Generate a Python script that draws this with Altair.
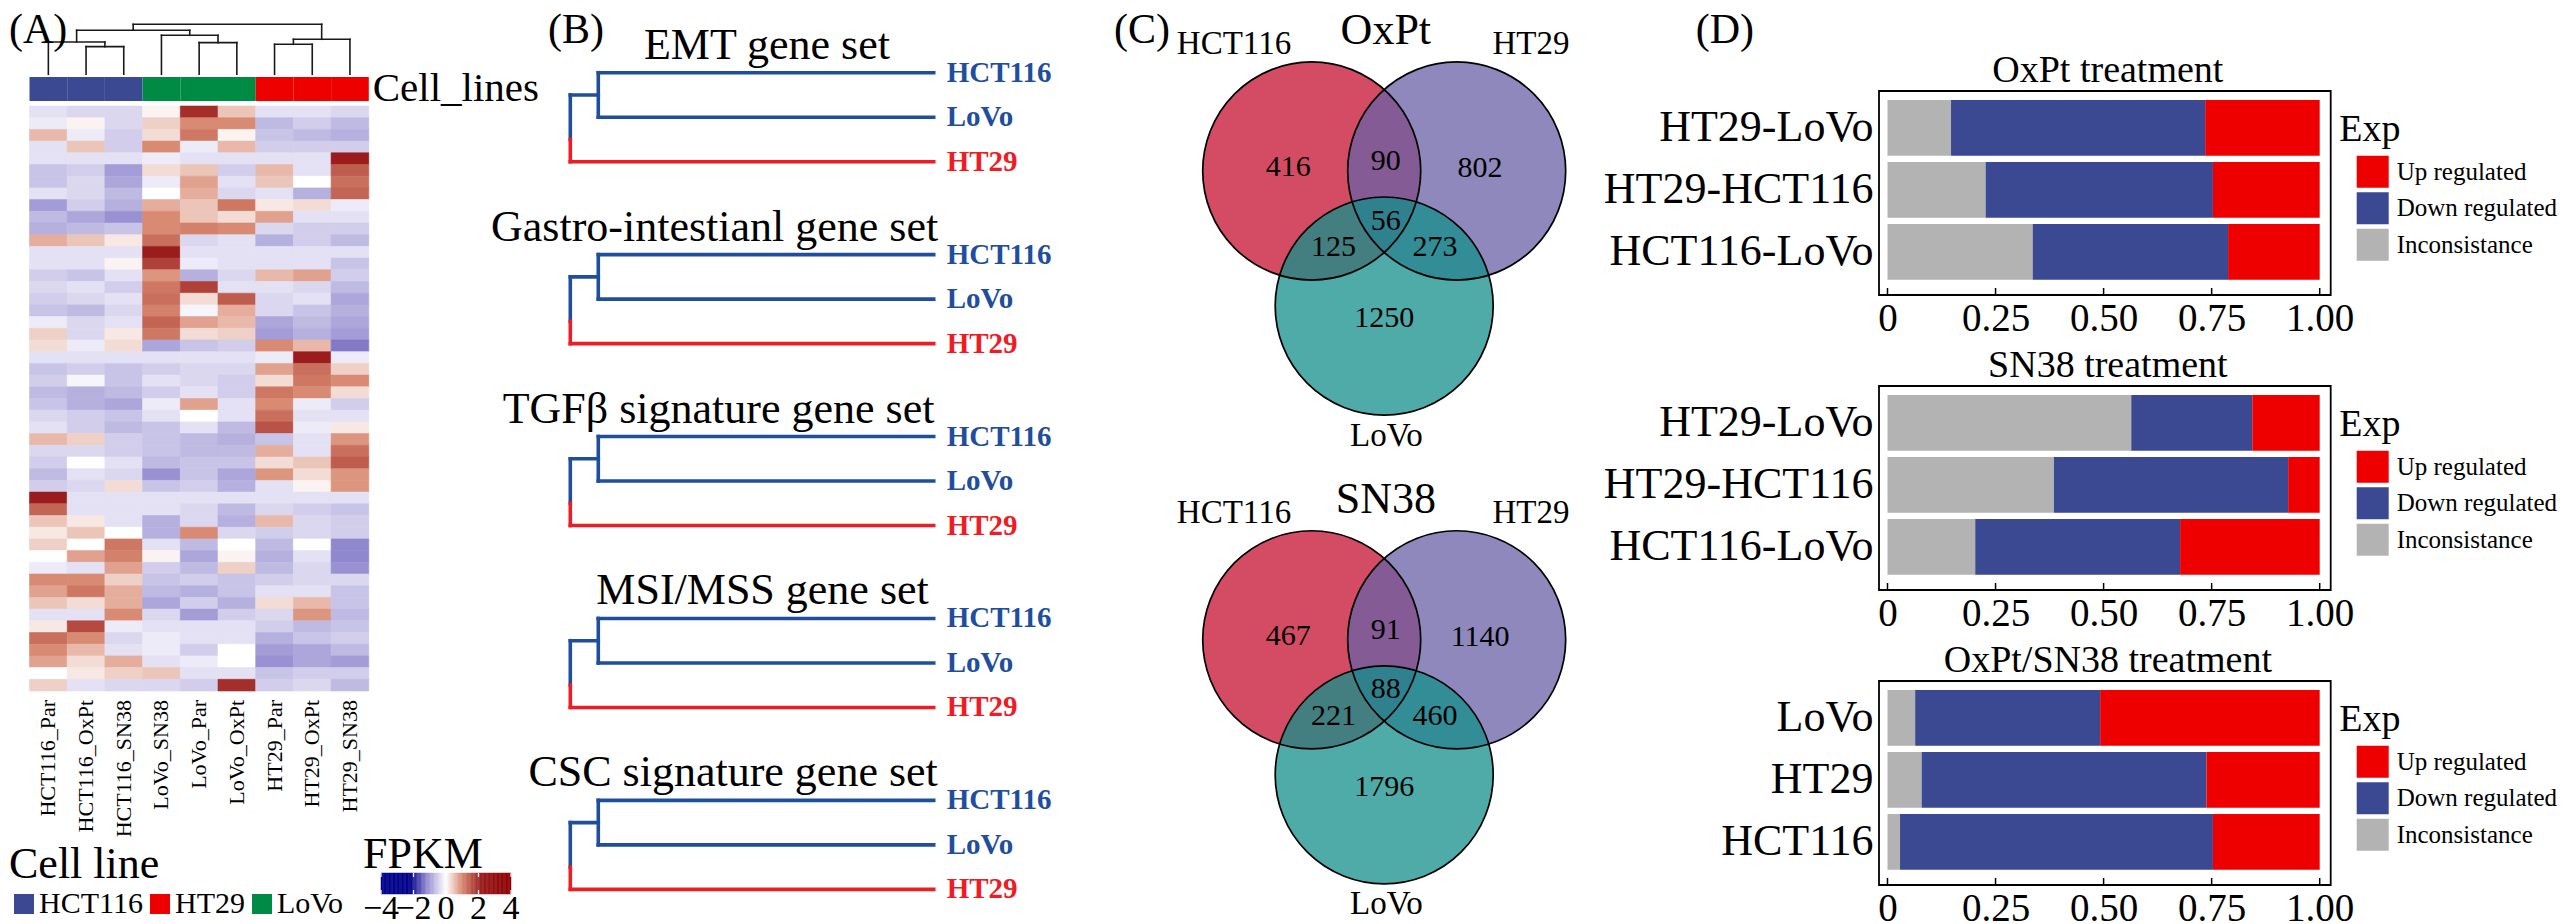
import altair as alt
import pandas as pd

FONT = "Liberation Serif"

# =============================== DATA =====================================
# ---- (A) heatmap --------------------------------------------------------
samples = ["HCT116_Par", "HCT116_OxPt", "HCT116_SN38", "LoVo_SN38", "LoVo_Par",
           "LoVo_OxPt", "HT29_Par", "HT29_OxPt", "HT29_SN38"]
sample_cell_line = ["HCT116", "HCT116", "HCT116", "LoVo", "LoVo", "LoVo",
                    "HT29", "HT29", "HT29"]
cell_lines = ["HCT116", "HT29", "LoVo"]

expr_HCT116_Par = [-0.3, -0.2, 0.6, -0.3, -0.3, -0.6, -0.6, -0.3, -1.0, -0.7,
                   -0.8, 0.7, -0.3, -0.3, -0.5, -0.4, -0.5, -0.6, -0.2, 0.4,
                   0.3, -0.3, -0.6, -0.5, -0.7, -0.6, -0.4, -0.3, 0.6, -0.4,
                   -0.5, -0.7, -0.5, 2.2, 1.4, 0.5, 0.2, 0.4, 0.0, -0.2,
                   1.0, 0.8, 0.5, -0.3, 0.2, 1.3, 1.0, 0.8, 0.0, 0.4]
expr_HCT116_OxPt = [-0.4, 0.1, -0.2, 0.5, -0.3, -0.5, -0.4, -0.4, -0.5, -0.9,
                    -0.7, 0.5, -0.3, -0.3, -0.6, -0.3, -0.4, -0.7, -0.4, -0.4,
                    -0.2, -0.3, -0.5, -0.1, -0.8, -0.8, -0.5, -0.5, 0.4, -0.4,
                    0.0, -0.3, -0.4, -0.3, -0.3, 0.2, 0.5, 0.0, 0.8, -0.3,
                    1.0, 1.2, 0.3, -0.3, 1.7, 1.0, 0.6, 0.3, 0.2, -0.3]
expr_HCT116_SN38 = [-0.4, -0.4, -0.5, -0.5, -0.3, -1.0, -0.9, -0.7, -0.8, -1.1,
                    -0.6, 0.2, -0.3, 0.1, -0.3, -0.5, -0.3, -0.4, -0.3, 0.2,
                    0.3, -0.3, -0.6, -0.6, -0.7, -0.9, -0.6, -0.7, -0.5, -0.5,
                    -0.3, -0.4, 0.3, -0.3, -0.3, -0.3, 0.0, 1.2, 1.1, 0.8,
                    0.4, 0.7, 0.7, 1.0, -0.2, -0.4, -0.3, 0.7, 0.4, -0.4]
expr_LoVo_SN38 = [0.1, 0.4, 0.3, 1.0, -0.2, 0.3, -0.2, 0.0, 0.7, 1.0,
                  1.0, 1.3, 2.2, 1.8, 0.9, 1.2, 1.3, 1.1, 1.4, 1.2,
                  -0.9, -0.3, -0.5, -0.3, -0.5, -0.2, -0.3, -0.6, -0.6, -0.6,
                  -0.7, -1.1, -0.6, -0.3, -0.3, -0.8, -0.8, -0.3, 0.1, -0.5,
                  -0.6, -0.7, -0.9, -0.4, -0.3, -0.2, -0.2, -0.3, 0.5, -0.4]
expr_LoVo_Par = [2.0, 1.0, 1.2, -0.2, -0.3, 0.5, 0.8, 0.7, 0.5, 0.5,
                 1.1, -0.4, -0.3, -0.2, -0.8, 1.8, 0.3, -0.1, 0.8, 0.3,
                 -0.6, -0.3, -0.4, -0.4, -0.3, 0.8, 0.0, -0.3, -0.7, -0.7,
                 -0.6, -0.6, -0.5, -0.3, -0.4, -0.4, 1.0, -0.7, -0.9, -0.7,
                 -0.5, -0.8, -0.5, -1.0, -0.3, -0.3, -0.5, -0.2, -0.3, -0.5]
expr_LoVo_OxPt = [0.5, 1.0, 0.1, 0.6, -0.3, -0.5, -0.3, -0.4, 1.2, 0.3,
                  1.0, -0.3, -0.3, -0.3, -0.4, -0.3, 1.5, 0.7, 0.6, 0.4,
                  -0.5, -0.3, -0.4, -0.5, -0.5, -0.3, -0.3, -0.7, -0.8, -0.7,
                  -0.6, -0.9, -0.8, -0.3, -0.7, -0.8, -0.4, 0.0, 0.1, 0.4,
                  -0.6, -0.6, -0.8, -0.5, -0.3, -0.3, 0.0, 0.0, -0.3, 2.0]
expr_HT29_Par = [-0.3, -0.7, -0.6, -0.5, -0.3, 0.6, 0.5, -0.3, 0.2, 0.8,
                 -0.4, -0.8, -0.3, -0.3, 0.6, -0.3, -0.4, -0.4, -0.9, -1.0,
                 1.0, -0.2, 0.8, 0.3, 1.2, 1.0, 1.3, 1.6, -0.6, 0.7,
                 0.3, 0.9, -0.3, -0.3, -0.4, 0.6, -0.5, -0.7, -0.8, -0.7,
                 -0.5, -0.3, 0.3, -0.4, -0.5, -0.8, -1.0, -1.1, -0.6, -0.5]
expr_HT29_OxPt = [-0.3, -0.5, -0.7, -0.5, -0.3, -0.3, 0.0, -0.8, 0.3, -0.3,
                  -0.5, -0.5, -0.3, -0.3, 0.8, -0.4, -0.3, -0.6, -0.7, -0.8,
                  0.6, 2.2, 1.3, 1.2, 1.0, -0.2, -0.3, -0.2, -0.3, -0.3,
                  0.5, 0.3, 0.1, -0.3, -0.5, -0.4, -0.4, 0.0, -0.3, -0.4,
                  -0.4, -0.3, 0.6, 0.9, -0.7, -0.6, -0.9, -0.9, -0.5, -0.4]
expr_HT29_SN38 = [-0.4, -0.7, -0.8, -0.5, 2.2, 1.5, 1.3, 1.4, -0.2, -0.3,
                  -0.5, -0.7, -0.3, -0.6, -0.5, -0.7, -0.9, -0.8, -0.9, -1.0,
                  -1.3, -0.2, 0.4, 1.0, 0.3, -0.5, -0.3, 0.2, 0.9, 1.3,
                  1.5, 0.9, 0.9, -0.3, -0.6, -0.5, -0.5, -1.2, -1.2, -1.1,
                  -0.4, -0.6, -0.6, -0.7, -0.6, -0.5, -0.7, -1.0, -0.5, -0.7]
expression = [expr_HCT116_Par, expr_HCT116_OxPt, expr_HCT116_SN38,
              expr_LoVo_SN38, expr_LoVo_Par, expr_LoVo_OxPt,
              expr_HT29_Par, expr_HT29_OxPt, expr_HT29_SN38]
fpkm_ticks = [-4, -2, 0, 2, 4]

# sample clustering: (merge height, left, right)
sample_tree = (1.00,
               (0.88,
                (0.647, "HCT116_Par", (0.553, "HCT116_OxPt", "HCT116_SN38")),
                (0.78, "LoVo_SN38", (0.633, "LoVo_Par", "LoVo_OxPt"))),
               (0.70, (0.60, "HT29_Par", "HT29_OxPt"), "HT29_SN38"))

# ---- (B) gene-set dendrograms -------------------------------------------
gene_sets = ["EMT gene set", "Gastro-intestianl gene set", "TGFβ signature gene set",
             "MSI/MSS gene set", "CSC signature gene set"]
gs_leaves = ["HCT116", "LoVo", "HT29"]
gs_leaf_cluster = ["c1", "c1", "c2"]
gs_inner_height = [0.923, 0.923, 0.923, 0.923, 0.923]
gs_root_height = [1.0, 1.0, 1.0, 1.0, 1.0]

# ---- (C) Venn diagrams ---------------------------------------------------
venn_sets = ["HCT116", "HT29", "LoVo"]
venn_regions = ["HCT116", "HCT116&HT29", "HT29", "all", "HCT116&LoVo", "HT29&LoVo", "LoVo"]
venn_titles = ["OxPt", "SN38"]
oxpt_counts = [416, 90, 802, 56, 125, 273, 1250]
sn38_counts = [467, 91, 1140, 88, 221, 460, 1796]

# ---- (D) stacked proportions ---------------------------------------------
status_levels = ["Up regulated", "Down regulated", "Inconsistance"]
pairs = ["HT29-LoVo", "HT29-HCT116", "HCT116-LoVo"]
oxpt_incons = [0.147, 0.227, 0.336]
oxpt_down = [0.588, 0.526, 0.452]
oxpt_up = [0.265, 0.247, 0.212]
sn38_incons = [0.564, 0.385, 0.203]
sn38_down = [0.280, 0.542, 0.474]
sn38_up = [0.156, 0.073, 0.323]
both_groups = ["LoVo", "HT29", "HCT116"]
both_incons = [0.064, 0.079, 0.029]
both_down = [0.428, 0.659, 0.724]
both_up = [0.508, 0.262, 0.247]
prop_ticks = [0, 0.25, 0.5, 0.75, 1.0]

# ============================== STYLE / LAYOUT ============================
H = 908
cell_line_colors = ["#3B4992", "#EE0000", "#008B45"]
heat_stops = [-4, -2.2, -1.2, 0, 1, 2.2, 4]
heat_colors = ["#00008B", "#00008B", "#9088CE", "#FFFFFF", "#D88A72", "#9A1C1C", "#8B0000"]
cluster_colors = ["#1F4E9D", "#EE1C25"]
venn_colors = ["#C61030", "#6A60A6", "#138F8B"]
status_colors = ["#EE0000", "#3B4992", "#B3B3B3"]


def txt(text, x, y, size, align="left", baseline="alphabetic", **kw):
    return alt.Chart(pd.DataFrame({"t": [text]})).mark_text(
        align=align, baseline=baseline, fontSize=size, font=FONT, color="black", **kw
    ).encode(text="t:N", x=alt.value(x), y=alt.value(y))


# ============================== PANEL A ===================================
W_A = 530
COL_PX, ROW_PX = 37.7, 11.7
HM_X0, HM_Y0 = 20.5, 97.0
ANN_TOP_PX, ANN_BOT_PX = 68.0, 92.0
DEND_BASE_PX, DEND_TOP_PX = 65.3, 15.3
LABEL_TOP_PX = 691.0
CB_X0_PX, CB_X1_PX, CB_Y0_PX, CB_Y1_PX = 372.0, 502.0, 864.0, 885.0
CB_LABEL_Y_PX = 900.0


def ux(px):
    return (px - HM_X0) / COL_PX


def uy(px):
    return (px - HM_Y0) / ROW_PX


xA = alt.Scale(domain=[ux(0), ux(W_A)], nice=False, zero=False)
yA = alt.Scale(domain=[uy(0), uy(H)], reverse=True, nice=False, zero=False)
heat_scale = dict(domain=heat_stops, range=heat_colors, interpolate="rgb", zero=False, nice=False)

heat_rows = []
for i, (s, vals) in enumerate(zip(samples, expression)):
    for r, v in enumerate(vals):
        heat_rows.append({"sample": s, "c0": i, "c1": i + 1, "r0": r, "r1": r + 1,
                          "FPKM": v, "edge": v})
heat_df = pd.DataFrame(heat_rows)

heat = alt.Chart(heat_df).mark_rect(strokeWidth=0.6).encode(
    x=alt.X("c0:Q", scale=xA, axis=None), x2="c1:Q",
    y=alt.Y("r0:Q", scale=yA, axis=None), y2="r1:Q",
    color=alt.Color("FPKM:Q", scale=alt.Scale(**heat_scale), legend=None),
    stroke=alt.Stroke("edge:Q", scale=alt.Scale(**heat_scale), legend=None),
)

# colour bar (FPKM key) drawn through the same colour scale
lo, hi = fpkm_ticks[0], fpkm_ticks[-1]
cb_u0, cb_u1 = ux(CB_X0_PX), ux(CB_X1_PX)


def cb_x(v):
    return cb_u0 + (v - lo) / (hi - lo) * (cb_u1 - cb_u0)


cb_rows = []
n_cb = 100
for k in range(n_cb):
    v0 = lo + (hi - lo) * k / n_cb
    v1 = lo + (hi - lo) * (k + 1) / n_cb
    cb_rows.append({"FPKM": (v0 + v1) / 2, "edge": (v0 + v1) / 2, "x0": cb_x(v0), "x1": cb_x(v1)})
cb_df = pd.DataFrame(cb_rows)
cb_df["y0"] = uy(CB_Y0_PX)
cb_df["y1"] = uy(CB_Y1_PX)
colorbar = alt.Chart(cb_df).mark_rect(strokeWidth=0.5).encode(
    x=alt.X("x0:Q", scale=xA, axis=None), x2="x1:Q",
    y=alt.Y("y0:Q", scale=yA, axis=None), y2="y1:Q",
    color=alt.Color("FPKM:Q", scale=alt.Scale(**heat_scale), legend=None),
    stroke=alt.Stroke("edge:Q", scale=alt.Scale(**heat_scale), legend=None))

tick_rows = []
for t in fpkm_ticks:
    tick_rows.append({"x": cb_x(t), "y": uy(CB_Y0_PX), "y2": uy(CB_Y0_PX + 4)})
    tick_rows.append({"x": cb_x(t), "y": uy(CB_Y1_PX - 4), "y2": uy(CB_Y1_PX)})
cb_ticks = alt.Chart(pd.DataFrame(tick_rows)).mark_rule(color="white", strokeWidth=1.2).encode(
    x=alt.X("x:Q", scale=xA, axis=None), y=alt.Y("y:Q", scale=yA, axis=None), y2="y2:Q")
cb_lab_df = pd.DataFrame({"label": [str(t).replace("-", "\u2212") for t in fpkm_ticks],
                          "x": [cb_x(t) for t in fpkm_ticks]})
cb_lab_df["y"] = uy(CB_LABEL_Y_PX)
cb_labels = alt.Chart(cb_lab_df).mark_text(fontSize=34, font=FONT, color="black",
                                           baseline="middle", align="center").encode(
    x=alt.X("x:Q", scale=xA, axis=None), y=alt.Y("y:Q", scale=yA, axis=None), text="label:N")

ann_df = pd.DataFrame({"sample": samples, "cell_line": sample_cell_line,
                       "c0": list(range(len(samples))),
                       "c1": [i + 1 for i in range(len(samples))]})
ann_df["y0"] = uy(ANN_TOP_PX)
ann_df["y1"] = uy(ANN_BOT_PX)
ann = alt.Chart(ann_df).mark_rect().encode(
    x=alt.X("c0:Q", scale=xA, axis=None), x2="c1:Q",
    y=alt.Y("y0:Q", scale=yA, axis=None), y2="y1:Q",
    color=alt.Color("cell_line:N",
                    scale=alt.Scale(domain=cell_lines, range=cell_line_colors),
                    legend=alt.Legend(orient="none", legendX=0, legendY=834,
                                      direction="horizontal", columns=3,
                                      title="Cell line", titleFontSize=44,
                                      titleFont=FONT, titleFontWeight="normal",
                                      titleColor="black", titlePadding=2,
                                      labelFontSize=30, labelFont=FONT,
                                      labelColor="black", labelOffset=0,
                                      symbolType="square", symbolSize=400,
                                      symbolStrokeWidth=0, columnPadding=2,
                                      padding=0)),
)

segs = []


def walk(node):
    if isinstance(node, str):
        return samples.index(node) + 0.5, 0.0
    h, left, right = node
    xl, hl = walk(left)
    xr, hr = walk(right)
    segs.extend([(xl, hl, xl, h), (xr, hr, xr, h), (xl, h, xr, h)])
    return (xl + xr) / 2, h


walk(sample_tree)
base_u, top_u = uy(DEND_BASE_PX), uy(DEND_TOP_PX)
dend_df = pd.DataFrame([{"x": a, "x2": c, "y": base_u - b * (base_u - top_u),
                         "y2": base_u - d * (base_u - top_u)} for a, b, c, d in segs])
dend = alt.Chart(dend_df).mark_rule(color="#1a1a1a", strokeWidth=1.6, strokeCap="square").encode(
    x=alt.X("x:Q", scale=xA, axis=None), x2="x2:Q",
    y=alt.Y("y:Q", scale=yA, axis=None), y2="y2:Q")

lab_df = pd.DataFrame({"sample": samples, "xc": [i + 0.5 for i in range(len(samples))]})
lab_df["yl"] = uy(LABEL_TOP_PX)
col_labels = alt.Chart(lab_df).mark_text(angle=270, align="right", baseline="middle",
                                         fontSize=22, font=FONT, color="black").encode(
    x=alt.X("xc:Q", scale=xA, axis=None), y=alt.Y("yl:Q", scale=yA, axis=None), text="sample:N")

panelA = alt.layer(
    heat, ann, dend, col_labels, colorbar, cb_ticks, cb_labels,
    txt("Cell_lines", 363.7, 80, 41, baseline="middle"),
    txt("(A)", 0, 1, 42, baseline="top"),
    txt("FPKM", 354, 858.7, 44),
).resolve_scale(color="independent", stroke="independent").properties(width=W_A, height=H)

# ============================== PANEL B ===================================
W_B = 560
B_UNIT_X, B_ZERO_PX = 363.4, 394.7
B_UNIT_Y, B_FIRST_PX, B_BLOCK = 44.5, 63.7, 4.088
B_TITLE_GAP = 14.0 / 44.5
title_x_units = [0.459, 0.603, 0.592, 0.471, 0.552]

xB = alt.Scale(domain=[(B_ZERO_PX - W_B) / B_UNIT_X, B_ZERO_PX / B_UNIT_X],
               reverse=True, nice=False, zero=False)
yB = alt.Scale(domain=[-B_FIRST_PX / B_UNIT_Y, (H - B_FIRST_PX) / B_UNIT_Y],
               reverse=True, nice=False, zero=False)

b_segs, b_leaves, b_titles = [], [], []
for g, name in enumerate(gene_sets):
    b = g * B_BLOCK
    hi_, hr_ = gs_inner_height[g], gs_root_height[g]
    c0, c1, c2 = gs_leaf_cluster
    b_segs += [
        dict(x=0, x2=hi_, y=b + 0, y2=b + 0, cl=c0),
        dict(x=0, x2=hi_, y=b + 1, y2=b + 1, cl=c1),
        dict(x=0, x2=hr_, y=b + 2, y2=b + 2, cl=c2),
        dict(x=hi_, x2=hi_, y=b + 0, y2=b + 1, cl=c0),
        dict(x=hi_, x2=hr_, y=b + 0.5, y2=b + 0.5, cl=c0),
        dict(x=hr_, x2=hr_, y=b + 0.5, y2=b + 1.5, cl=c1),
        dict(x=hr_, x2=hr_, y=b + 1.5, y2=b + 2, cl=c2),
    ]
    for k, leaf in enumerate(gs_leaves):
        b_leaves.append(dict(x=0, y=b + k, label=leaf, cl=gs_leaf_cluster[k]))
    b_titles.append(dict(x=title_x_units[g], y=b - B_TITLE_GAP, label=name))

cl_scale = alt.Scale(domain=["c1", "c2"], range=cluster_colors)
b_lines = alt.Chart(pd.DataFrame(b_segs)).mark_rule(strokeWidth=3.6, strokeCap="square").encode(
    x=alt.X("x:Q", scale=xB, axis=None), x2="x2:Q",
    y=alt.Y("y:Q", scale=yB, axis=None), y2="y2:Q",
    color=alt.Color("cl:N", scale=cl_scale, legend=None))
b_leaf_txt = alt.Chart(pd.DataFrame(b_leaves)).mark_text(
    align="left", baseline="middle", dx=13, fontSize=29, fontWeight="bold", font=FONT).encode(
    x=alt.X("x:Q", scale=xB, axis=None), y=alt.Y("y:Q", scale=yB, axis=None),
    text="label:N", color=alt.Color("cl:N", scale=cl_scale, legend=None))
b_title_txt = alt.Chart(pd.DataFrame(b_titles)).mark_text(
    align="center", baseline="alphabetic", fontSize=44, font=FONT, color="black").encode(
    x=alt.X("x:Q", scale=xB, axis=None), y=alt.Y("y:Q", scale=yB, axis=None), text="label:N")

panelB = alt.layer(b_lines, b_leaf_txt, b_title_txt, txt("(B)", 9, 1, 42, baseline="top")
                   ).properties(width=W_B, height=H)

# ============================== PANEL C ===================================
W_C = 779.3
R_PX = 109.0
C_CX_PX, C_CY_PX = 285.2, 162.0
VENN_DY = 4.301
set_center = {"HCT116": (-0.665, 0.0), "HT29": (0.665, 0.0), "LoVo": (0.0, 1.239)}
set_label_at = {"HCT116": (-1.378, -1.07), "HT29": (1.347, -1.07), "LoVo": (0.02, 2.52)}
region_at = {"HCT116": (-0.88, -0.035), "HCT116&HT29": (0.015, -0.09), "HT29": (0.88, -0.03),
             "all": (0.015, 0.455), "HCT116&LoVo": (-0.465, 0.70),
             "HT29&LoVo": (0.465, 0.70), "LoVo": (0.0, 1.35)}
TITLE_DY = -1.165

xC = alt.Scale(domain=[-C_CX_PX / R_PX, (W_C - C_CX_PX) / R_PX], nice=False, zero=False)
yC = alt.Scale(domain=[-C_CY_PX / R_PX, (H - C_CY_PX) / R_PX], reverse=True, nice=False, zero=False)

circ, counts, setlab, titles = [], [], [], []
for v, (title, cnts) in enumerate(zip(venn_titles, [oxpt_counts, sn38_counts])):
    oy = v * VENN_DY
    for s in venn_sets:
        cx, cy = set_center[s]
        circ.append(dict(set=s, x=cx, y=cy + oy))
        lx, ly = set_label_at[s]
        setlab.append(dict(label=s, x=lx, y=ly + oy))
    for reg, n in zip(venn_regions, cnts):
        rx, ry = region_at[reg]
        counts.append(dict(label=str(n), x=rx, y=ry + oy))
    titles.append(dict(label=title, x=0.015, y=TITLE_DY + oy))

DIAM = (2 * R_PX) ** 2
c_fill = alt.Chart(pd.DataFrame(circ)).mark_circle(size=DIAM, opacity=1, fillOpacity=0.75, strokeWidth=0).encode(
    x=alt.X("x:Q", scale=xC, axis=None), y=alt.Y("y:Q", scale=yC, axis=None),
    color=alt.Color("set:N", scale=alt.Scale(domain=venn_sets, range=venn_colors), legend=None))
c_line = alt.Chart(pd.DataFrame(circ)).mark_point(shape="circle", filled=False, size=DIAM, opacity=1,
                                                  strokeWidth=1.7, color="black").encode(
    x=alt.X("x:Q", scale=xC, axis=None), y=alt.Y("y:Q", scale=yC, axis=None))
c_counts = alt.Chart(pd.DataFrame(counts)).mark_text(fontSize=30, font=FONT, color="black",
                                                     baseline="middle").encode(
    x=alt.X("x:Q", scale=xC, axis=None), y=alt.Y("y:Q", scale=yC, axis=None), text="label:N")
c_setlab = alt.Chart(pd.DataFrame(setlab)).mark_text(fontSize=33, font=FONT, color="black",
                                                     baseline="alphabetic").encode(
    x=alt.X("x:Q", scale=xC, axis=None), y=alt.Y("y:Q", scale=yC, axis=None), text="label:N")
c_titles = alt.Chart(pd.DataFrame(titles)).mark_text(fontSize=44, font=FONT, color="black",
                                                     baseline="alphabetic").encode(
    x=alt.X("x:Q", scale=xC, axis=None), y=alt.Y("y:Q", scale=yC, axis=None), text="label:N")

panelC = alt.layer(c_fill, c_line, c_counts, c_setlab, c_titles,
                   txt("(C)", 15, 1, 42, baseline="top")).properties(width=W_C, height=H)

# ============================== PANEL D ===================================
D_W, D_H = 451.7, 204
D_GAP, D_TOP = 91, 81.3
D_ZERO_PX, D_UNIT = 8.5, 432.2
D_TITLE_GAP = 9
xD = alt.Scale(domain=[-D_ZERO_PX / D_UNIT, (D_W - D_ZERO_PX) / D_UNIT], nice=False, zero=False)


def bar_panel(title, groups, incons, down, up):
    rows = []
    for grp, a, b, c in zip(groups, incons, down, up):
        rows += [dict(group=grp, status="Inconsistance", value=a, rank=0),
                 dict(group=grp, status="Down regulated", value=b, rank=1),
                 dict(group=grp, status="Up regulated", value=c, rank=2)]
    bars = alt.Chart(pd.DataFrame(rows)).mark_bar().encode(
        y=alt.Y("group:N", sort=groups,
                scale=alt.Scale(paddingInner=0.1, paddingOuter=0.195, align=0.37),
                axis=alt.Axis(title=None, labelFontSize=44, labelFont=FONT, labelColor="black",
                              domain=False, ticks=False, labelPadding=6, labelLimit=400)),
        x=alt.X("value:Q", stack="zero", scale=xD,
                axis=alt.Axis(values=prop_ticks, title=None, domain=False, ticks=False, grid=False,
                              labelExpr="datum.value == 0 ? '0' : format(datum.value, '.2f')",
                              labelFontSize=39, labelFont=FONT, labelColor="black",
                              labelPadding=4, labelFlush=False)),
        color=alt.Color("status:N", scale=alt.Scale(domain=status_levels, range=status_colors),
                        legend=alt.Legend(orient="none", legendX=D_W + 8.6, legendY=20,
                                          title="Exp", titleFontSize=38, titleFont=FONT,
                                          titleFontWeight="normal", titleColor="black",
                                          titlePadding=6.7, labelFontSize=25, labelFont=FONT,
                                          labelColor="black", labelOffset=8, labelLimit=400,
                                          symbolType="square", symbolSize=1024,
                                          symbolStrokeWidth=0, symbolOffset=17.4,
                                          rowPadding=4.5, padding=0)),
        order=alt.Order("rank:Q"))
    ticks = alt.Chart(pd.DataFrame({"t": prop_ticks})).mark_rule(color="black", strokeWidth=1.5).encode(
        x=alt.X("t:Q", scale=xD), y=alt.value(D_H - 7), y2=alt.value(D_H))
    head = txt(title, D_W / 2 + 3, -D_TITLE_GAP, 38, align="center")
    return alt.layer(bars, ticks, head).properties(
        width=D_W, height=D_H,
        view=alt.ViewBackground(stroke="black", strokeWidth=1.8))


spacerD = alt.Chart(pd.DataFrame({"t": ["(D)"]})).mark_text(
    align="left", baseline="top", fontSize=42, font=FONT, color="black").encode(
    text="t:N", x=alt.value(-183.3), y=alt.value(1)).properties(width=D_W, height=D_TOP)

barsD = alt.vconcat(
    bar_panel("OxPt treatment", pairs, oxpt_incons, oxpt_down, oxpt_up),
    bar_panel("SN38 treatment", pairs, sn38_incons, sn38_down, sn38_up),
    bar_panel("OxPt/SN38 treatment", both_groups, both_incons, both_down, both_up),
    spacing=D_GAP, bounds="flush",
).resolve_scale(color="independent").resolve_legend(color="independent")

panelD = alt.vconcat(spacerD, barsD, spacing=0, bounds="flush"
                     ).resolve_scale(color="independent").resolve_legend(color="independent")

# ============================== FIGURE ====================================
chart = alt.hconcat(panelA, panelB, panelC, panelD, spacing=0, bounds="flush"
                    ).resolve_scale(color="independent").resolve_legend(color="independent"
                    ).properties(padding=0
                    ).configure(font=FONT).configure_view(stroke="transparent")

chart.save("out.html", embed_options={"renderer": "svg", "actions": False})
